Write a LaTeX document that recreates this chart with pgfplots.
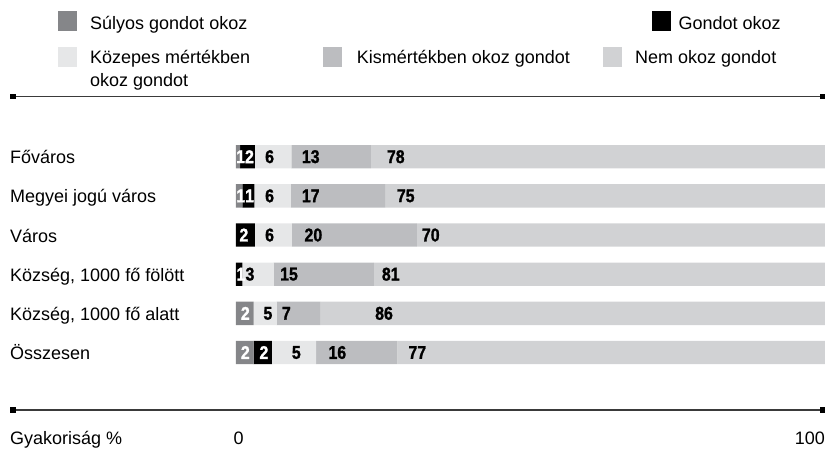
\documentclass[border=0pt]{standalone}
\usepackage{fontspec}
\setmainfont{Liberation Sans}
\newfontfamily\numfont{Liberation Sans Bold}[FakeStretch=0.86, FakeBold=1.2]
\usepackage{pgfplots}
\usepackage{pgfplotstable}
\pgfplotsset{compat=1.18}

\definecolor{cSul}{HTML}{858689}
\definecolor{cGon}{HTML}{000000}
\definecolor{cKoz}{HTML}{E6E7E8}
\definecolor{cKis}{HTML}{BCBDC0}
\definecolor{cNem}{HTML}{D1D2D4}
\definecolor{cLine}{HTML}{3A3A3A}

\newcommand\txtf{\fontsize{18}{23.4}\selectfont}
\newcommand\numf{\numfont\fontsize{18.5}{21.6}\selectfont}

\pgfplotstableread{
row sul gon koz kis nem
0 0.7 2.5 6.2 13.5 77.1
1 1.1 2.0 6.2 16.0 74.7
2 0   3.2 6.3 21.2 69.3
3 0   1.1 5.3 17.0 76.6
4 3.0 0   3.9 7.4 85.7
5 3.0 3.1 7.5 13.8 72.6
}\bars

\pgfplotstableread{
x y lab
0.00 0 1
1.50 0 2
0.02 1 1
1.52 1 1
0.56 2 2
0.05 3 1
0.80 4 2
0.80 5 2
3.96 5 2
}\whitelabs

\pgfplotstableread{
x y lab
4.92 0 6
11.15 0 13
25.59 0 78
4.92 1 6
11.15 1 17
27.28 1 75
4.92 2 6
11.60 2 20
31.53 2 70
1.58 3 3
7.47 3 15
24.74 3 81
4.63 4 5
7.76 4 7
23.60 4 86
9.46 5 5
15.67 5 16
29.25 5 77
}\blacklabs

\begin{document}
\begin{tikzpicture}[x=1pt,y=1pt]
\path[use as bounding box] (0,0) rectangle (825,-458);

% legend
\fill[cSul] (58.3,-11) rectangle (77.3,-31);
\node[anchor=base west, inner sep=0pt, font=\txtf] at (90,-29.5) {Súlyos gondot okoz};
\fill[cGon] (651.7,-11) rectangle (670.5,-31);
\node[anchor=base west, inner sep=0pt, font=\txtf] at (678.3,-29.5) {Gondot okoz};
\fill[cKoz] (58.3,-47) rectangle (77.3,-67);
\node[anchor=base west, inner sep=0pt, font=\txtf] at (90,-63.3) {Közepes mértékben};
\node[anchor=base west, inner sep=0pt, font=\txtf] at (90,-86.7) {okoz gondot};
\fill[cKis] (323.3,-47) rectangle (342,-67);
\node[anchor=base west, inner sep=0pt, font=\txtf] at (356.7,-63.3) {Kismértékben okoz gondot};
\fill[cNem] (603.3,-47) rectangle (622,-67);
\node[anchor=base west, inner sep=0pt, font=\txtf] at (635,-63.3) {Nem okoz gondot};

% rules
\draw[cLine, line width=1.4pt] (10,-96.7) -- (825,-96.7);
\fill[black] (10,-94) rectangle (15.5,-99.4);
\fill[black] (819.5,-94) rectangle (825,-99.4);
\draw[cLine, line width=1.4pt] (10,-410) -- (825,-410);
\fill[black] (10,-407.3) rectangle (15.5,-412.7);
\fill[black] (819.5,-407.3) rectangle (825,-412.7);

% bottom axis texts
\node[anchor=base west, inner sep=0pt, font=\txtf] at (10,-444) {Gyakoriság \%};
\node[anchor=base west, inner sep=0pt, font=\txtf] at (233.5,-444) {0};
\node[anchor=base east, inner sep=0pt, font=\txtf] at (825,-444) {100};

\begin{axis}[
  at={(236pt,-137.1pt)}, anchor=north west,
  width=589pt, height=235pt, scale only axis,
  xmin=0, xmax=100, ymin=-0.5, ymax=5.5, y dir=reverse,
  xbar stacked, bar width=23.3pt,
  axis line style={draw=none}, major tick length=0pt,
  xtick=\empty, ytick={0,...,5},
  yticklabels={Főváros,Megyei jogú város,Város,{Község, 1000 fő fölött},{Község, 1000 fő alatt},Összesen},
  yticklabel style={anchor=base west, inner sep=0pt, xshift=-226pt, yshift=-7pt, font=\txtf},
  clip=false]
\addplot[fill=cSul, draw=none] table[x=sul, y=row]{\bars};
\addplot[fill=cGon, draw=none] table[x=gon, y=row]{\bars};
\addplot[fill=cKoz, draw=none] table[x=koz, y=row]{\bars};
\addplot[fill=cKis, draw=none] table[x=kis, y=row]{\bars};
\addplot[fill=cNem, draw=none] table[x=nem, y=row]{\bars};
\end{axis}

\begin{axis}[
  at={(236pt,-137.1pt)}, anchor=north west,
  width=589pt, height=235pt, scale only axis,
  xmin=0, xmax=100, ymin=-0.5, ymax=5.5, y dir=reverse,
  hide axis, clip=false]
\addplot[draw=none, mark=none, nodes near coords, point meta=explicit symbolic,
  nodes near coords style={anchor=west, inner sep=0pt, font=\numf, text=white}]
  table[x=x, y=y, meta=lab]{\whitelabs};
\addplot[draw=none, mark=none, nodes near coords, point meta=explicit symbolic,
  nodes near coords style={anchor=west, inner sep=0pt, font=\numf, text=black}]
  table[x=x, y=y, meta=lab]{\blacklabs};
\end{axis}
\end{tikzpicture}
\end{document}
